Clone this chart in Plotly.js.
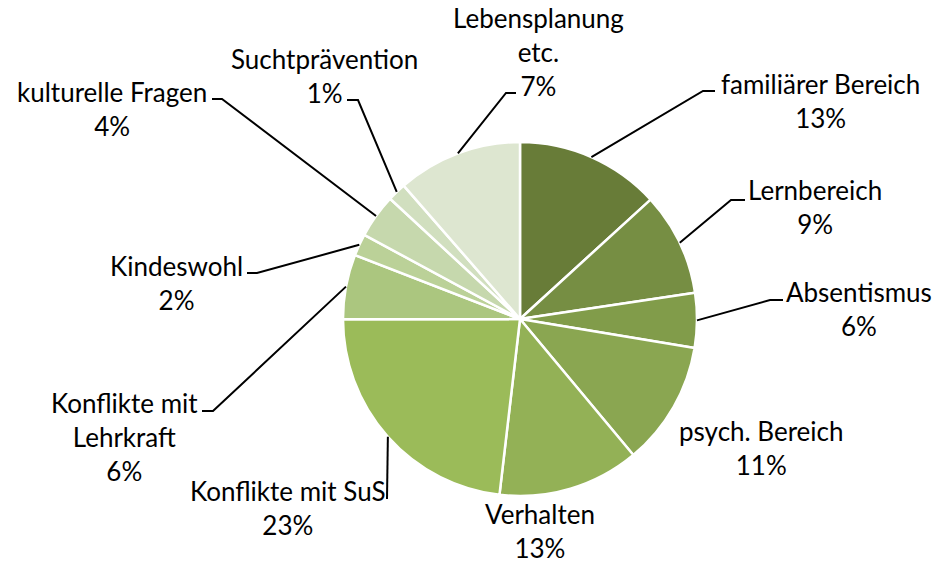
<!DOCTYPE html>
<html>
<head>
<meta charset="utf-8">
<script src="https://cdn.plot.ly/plotly-3.0.1.min.js"></script>
<style>
  body { margin: 0; background: #fff; }
  #chart { width: 946px; height: 565px; }
</style>
</head>
<body>
<div id="chart"></div>
<script>
// Categories, clockwise from 12 o'clock
var categories = ["familiärer Bereich", "Lernbereich", "Absentismus", "psych. Bereich", "Verhalten",
  "Konflikte mit SuS", "Konflikte mit Lehrkraft", "Kindeswohl", "kulturelle Fragen",
  "Suchtprävention", "Lebensplanung etc."];
// Slice sizes
var values = [13.2, 9.4, 5.0, 11.3, 12.9, 23.1, 5.9, 2.0, 4.0, 1.7, 11.4];
// Percentages as printed in the data labels
var percentLabels = ["13%", "9%", "6%", "11%", "13%", "23%", "6%", "2%", "4%", "1%", "7%"];
// Label text with the line breaks of the picture
var labelNames = ["familiärer Bereich", "Lernbereich", "Absentismus", "psych. Bereich", "Verhalten",
  "Konflikte mit SuS", "Konflikte mit<br>Lehrkraft", "Kindeswohl", "kulturelle Fragen",
  "Suchtprävention", "Lebensplanung<br>etc."];

var colors = ["#687c38", "#768e43", "#819c4a", "#8aa651", "#93b156", "#9bbb59",
  "#abc67f", "#bbd198", "#c6d8ad", "#d1dfbf", "#dde6d0"];

var W = 946, H = 565;
var cx = 520, cy = 319, r = 177;

// label placement (pixels): text centre, leader elbow and end; null = no leader line
var labelPos = [
  {x: 820, y: 101, elbow: [703, 91], end: [715, 91]},
  {x: 815, y: 207, elbow: [731, 200], end: [745, 200]},
  {x: 859, y: 309, elbow: [770, 300], end: [783, 300]},
  {x: 761, y: 448, elbow: null},
  {x: 540, y: 531, elbow: null},
  {x: 288, y: 508, elbow: [387, 499], end: [387, 499]},
  {x: 124, y: 437, elbow: [213, 411], end: [202, 411]},
  {x: 176, y: 283, elbow: [257, 273], end: [247, 273]},
  {x: 112, y: 109, elbow: [222, 99], end: [212, 99]},
  {x: 324, y: 76, elbow: [358, 100], end: [347, 100]},
  {x: 538, y: 52, elbow: [506, 93], end: [516, 93]}
];

function px(x) { return x / W; }
function py(y) { return 1 - y / H; }

var total = values.reduce((a, b) => a + b, 0);
var annotations = [];
var shapes = [];
var cum = 0;
values.forEach(function(v, i) {
  var mid = (cum + v / 2) / total * 2 * Math.PI;
  cum += v;
  var p = labelPos[i];
  annotations.push({
    x: px(p.x), y: py(p.y), xref: "paper", yref: "paper",
    xanchor: "center", yanchor: "middle", showarrow: false,
    text: labelNames[i] + "<br>" + percentLabels[i],
    font: {family: "Lato, 'Open Sans', sans-serif", size: 26, color: "#000"}
  });
  if (p.elbow) {
    // leader starts at the slice's mid-angle on the pie edge
    var sx = cx + r * Math.sin(mid), sy = cy - r * Math.cos(mid);
    shapes.push({
      type: "path", xref: "paper", yref: "paper",
      path: "M " + px(sx) + "," + py(sy) + " L " + px(p.elbow[0]) + "," + py(p.elbow[1]) +
            " L " + px(p.end[0]) + "," + py(p.end[1]),
      line: {color: "#000", width: 2}
    });
  }
});

var trace = {
  type: "pie",
  labels: categories,
  values: values,
  sort: false,
  direction: "clockwise",
  rotation: 0,
  textinfo: "none",
  hoverinfo: "label+percent",
  marker: {colors: colors, line: {color: "#fff", width: 2.5}},
  domain: {x: [px(cx - r), px(cx + r)], y: [py(cy + r), py(cy - r)]},
  showlegend: false
};

var layout = {
  width: W, height: H,
  margin: {l: 0, r: 0, t: 0, b: 0},
  paper_bgcolor: "#fff",
  showlegend: false,
  annotations: annotations,
  shapes: shapes
};

Plotly.newPlot("chart", [trace], layout, {displayModeBar: false, staticPlot: true});
</script>
</body>
</html>
